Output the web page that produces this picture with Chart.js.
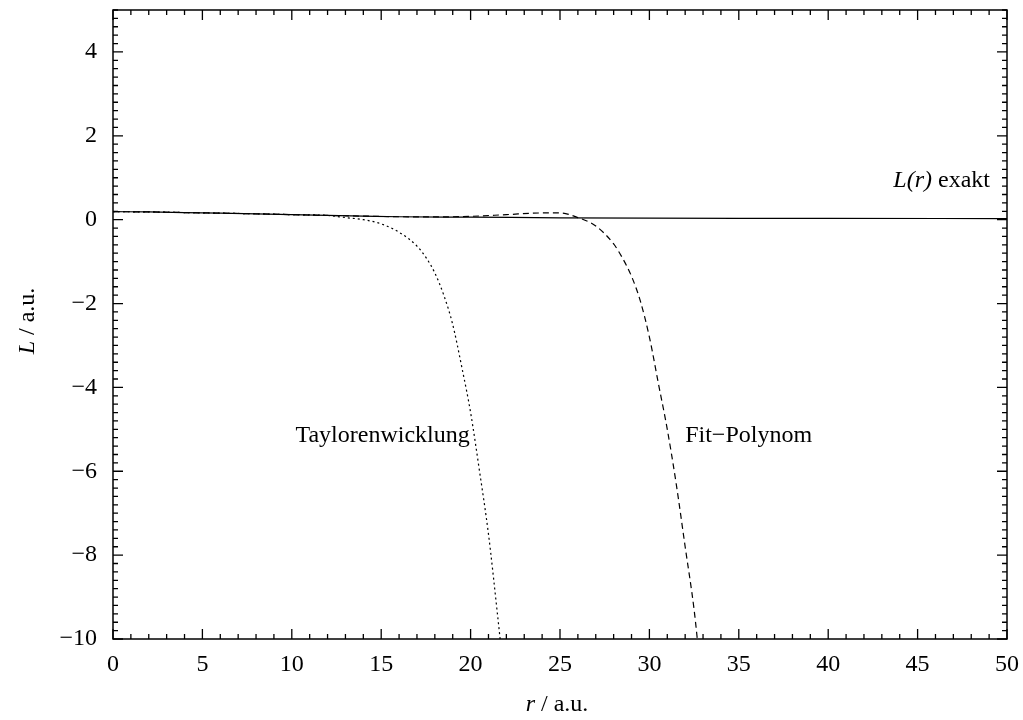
<!DOCTYPE html>
<html>
<head>
<meta charset="utf-8">
<script src="https://cdn.jsdelivr.net/npm/chart.js@4"></script>
<style>
  html, body { margin: 0; padding: 0; background: #fff; }
</style>
</head>
<body>
<canvas id="c" width="1023" height="720"></canvas>
<script>
// data
const rExakt = [0, 2, 4, 6, 8, 10, 12, 14, 16, 20, 25, 30, 35, 40, 50];
const lExakt = [0.19, 0.185, 0.17, 0.155, 0.14, 0.12, 0.10, 0.085, 0.07, 0.06, 0.045, 0.035, 0.03, 0.03, 0.025];

const rTaylor = [0, 2, 4, 6, 8, 10, 12, 13, 14, 15, 16, 17, 17.5, 18, 18.5, 19, 19.5, 20, 20.5, 21, 21.5, 21.8];
const lTaylor = [0.19, 0.185, 0.17, 0.155, 0.14, 0.12, 0.10, 0.05, 0.0, -0.1, -0.3, -0.63, -0.9, -1.27, -1.8, -2.5, -3.5, -4.6, -6.0, -7.5, -9.4, -10.6];

const rFit = [0, 2, 4, 6, 8, 10, 12, 14, 16, 18, 20, 22, 24, 25, 26, 27, 28, 28.5, 29, 29.5, 30, 30.5, 31, 31.5, 32, 32.5, 32.8];
const lFit = [0.19, 0.185, 0.17, 0.155, 0.14, 0.12, 0.10, 0.085, 0.07, 0.065, 0.08, 0.12, 0.16, 0.16, 0.05, -0.15, -0.58, -0.92, -1.35, -1.95, -2.8, -3.9, -5.0, -6.3, -7.8, -9.3, -10.5];

const xTicks = [0, 5, 10, 15, 20, 25, 30, 35, 40, 45, 50];
const yTicks = [-10, -8, -6, -4, -2, 0, 2, 4];

const FONT = "'Liberation Serif', 'DejaVu Serif', serif";
const FS = 24;

const pts = (xs, ys) => xs.map((x, i) => ({ x, y: ys[i] }));
const minus = v => v < 0 ? '\u2212' + Math.abs(v) : String(v);

// frame, inward ticks, titles and annotations
const decor = {
    id: 'decor',
    afterDraw(chart) {
        const ctx = chart.ctx;
        const a = chart.chartArea;
        const xs = chart.scales.x, ys = chart.scales.y;
        ctx.save();
        ctx.strokeStyle = '#000';
        ctx.lineWidth = 1.5;
        ctx.strokeRect(a.left, a.top, a.right - a.left, a.bottom - a.top);

        ctx.lineWidth = 1.3;
        ctx.beginPath();
        for (let v = 0; v <= 50; v++) {
            const px = xs.getPixelForValue(v);
            const len = v % 5 === 0 ? 10 : 5;
            ctx.moveTo(px, a.bottom); ctx.lineTo(px, a.bottom - len);
            ctx.moveTo(px, a.top); ctx.lineTo(px, a.top + len);
        }
        for (let i = -50; i <= 25; i++) {
            const py = ys.getPixelForValue(i / 5);
            const len = i % 10 === 0 ? 10 : 5;
            ctx.moveTo(a.left, py); ctx.lineTo(a.left + len, py);
            ctx.moveTo(a.right, py); ctx.lineTo(a.right - len, py);
        }
        ctx.stroke();

        ctx.fillStyle = '#000';
        ctx.textBaseline = 'middle';

        // mixed italic/upright text helper
        const rich = (parts, x, y, align) => {
            let w = 0;
            parts.forEach(p => { ctx.font = (p[1] ? 'italic ' : '') + FS + 'px ' + FONT; w += ctx.measureText(p[0]).width; });
            let cx = align === 'right' ? x - w : align === 'center' ? x - w / 2 : x;
            ctx.textAlign = 'left';
            parts.forEach(p => {
                ctx.font = (p[1] ? 'italic ' : '') + FS + 'px ' + FONT;
                ctx.fillText(p[0], cx, y);
                cx += ctx.measureText(p[0]).width;
            });
        };

        rich([['r', true], [' / a.u.', false]], 557, 705, 'center');

        ctx.save();
        ctx.translate(28, 321);
        ctx.rotate(-Math.PI / 2);
        rich([['L', true], [' / a.u.', false]], 0, 0, 'center');
        ctx.restore();

        rich([['Taylorenwicklung', false]], xs.getPixelForValue(19.95), ys.getPixelForValue(-5.15), 'right');
        rich([['Fit\u2212Polynom', false]], xs.getPixelForValue(32.0), ys.getPixelForValue(-5.15), 'left');
        rich([['L(r)', true], [' exakt', false]], xs.getPixelForValue(49.05), ys.getPixelForValue(0.92), 'right');
        ctx.restore();
    }
};

new Chart(document.getElementById('c'), {
    type: 'scatter',
    data: {
        datasets: [
            { data: pts(rExakt, lExakt), borderColor: '#000', borderWidth: 1.2, showLine: true, pointRadius: 0, cubicInterpolationMode: 'monotone' },
            { data: pts(rTaylor, lTaylor), borderColor: '#000', borderWidth: 1.2, borderDash: [2, 3], showLine: true, pointRadius: 0, cubicInterpolationMode: 'monotone' },
            { data: pts(rFit, lFit), borderColor: '#000', borderWidth: 1.2, borderDash: [6, 4], showLine: true, pointRadius: 0, cubicInterpolationMode: 'monotone' }
        ]
    },
    options: {
        responsive: false,
        animation: false,
        devicePixelRatio: 1,
        layout: { padding: { top: 10, right: 16, left: 0, bottom: 0 } },
        plugins: { legend: { display: false }, tooltip: { enabled: false } },
        scales: {
            x: {
                type: 'linear', min: 0, max: 50,
                afterBuildTicks: s => { s.ticks = xTicks.map(v => ({ value: v })); },
                afterFit: s => { s.height = 81; s.paddingLeft = 0; s.paddingRight = 0; },
                grid: { display: false, drawTicks: false },
                border: { display: false },
                ticks: { color: '#000', padding: 11, autoSkip: false, font: { family: FONT, size: FS }, maxRotation: 0, callback: v => minus(v) }
            },
            y: {
                type: 'linear', min: -10, max: 5,
                afterBuildTicks: s => { s.ticks = yTicks.map(v => ({ value: v })); },
                afterFit: s => { s.width = 113; s.paddingTop = 0; s.paddingBottom = 0; },
                grid: { display: false, drawTicks: false },
                border: { display: false },
                ticks: { color: '#000', padding: 16, autoSkip: false, font: { family: FONT, size: FS }, callback: v => minus(v) }
            }
        }
    },
    plugins: [decor]
});
</script>
</body>
</html>
